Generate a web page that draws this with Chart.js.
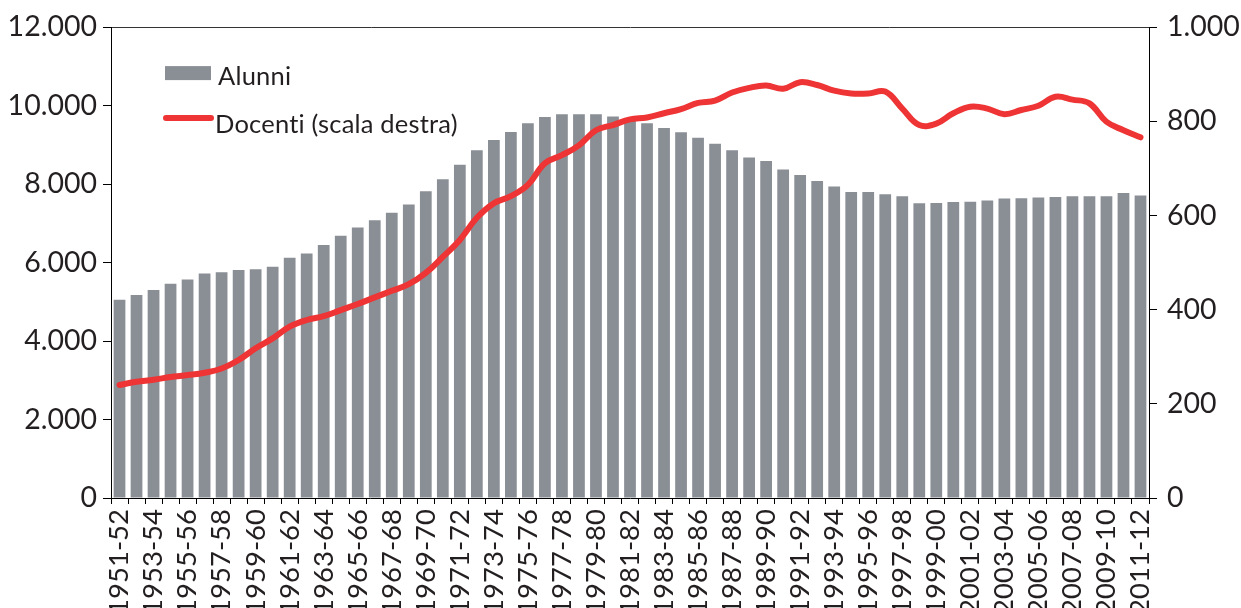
<!DOCTYPE html>
<html><head><meta charset="utf-8">
<script src="https://cdn.jsdelivr.net/npm/chart.js@4"></script>
<style>html,body{margin:0;padding:0;background:#fff}#wrap{width:1241px;height:608px;position:relative;overflow:hidden}</style>
</head><body><div id="wrap"><canvas id="c" width="1241" height="608"></canvas></div>
<script>
const categories = ["1951-52","1952-53","1953-54","1954-55","1955-56","1956-57","1957-58","1958-59","1959-60","1960-61",
"1961-62","1962-63","1963-64","1964-65","1965-66","1966-67","1967-68","1968-69","1969-70","1970-71",
"1971-72","1972-73","1973-74","1974-75","1975-76","1976-77","1977-78","1978-79","1979-80","1980-81",
"1981-82","1982-83","1983-84","1984-85","1985-86","1986-87","1987-88","1988-89","1989-90","1990-91",
"1991-92","1992-93","1993-94","1994-95","1995-96","1996-97","1997-98","1998-99","1999-00","2000-01",
"2001-02","2002-03","2003-04","2004-05","2005-06","2006-07","2007-08","2008-09","2009-10","2010-11","2011-12"];
const alunni = [5050,5170,5300,5460,5570,5720,5750,5810,5830,5890,
6120,6230,6450,6680,6890,7080,7270,7480,7820,8120,
8490,8860,9120,9330,9550,9710,9780,9780,9780,9720,
9650,9550,9430,9320,9180,9030,8860,8680,8590,8370,
8230,8080,7940,7800,7800,7740,7690,7510,7520,7540,
7550,7580,7630,7640,7660,7670,7690,7690,7690,7770,7710];
const docenti = [240,247,251,257,261,266,275,293,318,339,
364,378,386,399,412,426,440,454,478,512,
548,595,626,641,665,711,728,749,781,792,
804,808,817,826,839,844,861,871,876,869,
883,877,865,859,859,863,827,792,795,817,
831,827,815,824,833,852,846,838,799,781,766];
const leftTicks = [0,2000,4000,6000,8000,10000,12000];
const rightTicks = [0,200,400,600,800,1000];
const seriesNames = ["Alunni","Docenti (scala destra)"];

function fmt(v){ return String(v).replace(/\B(?=(\d{3})+(?!\d))/g,'.'); }
const FONT = 'Lato';
const TXT = '#231f20';
const BAR = '#8a8e95';
const RED = '#ee3434';

const legendPlugin = {
  id:'customLegend',
  afterDraw(chart){
    const ctx = chart.ctx, a = chart.chartArea;
    const x0 = a.left, y0 = a.top;
    const barDs = chart.data.datasets.find(d=>d.type==='bar');
    const lineDs = chart.data.datasets.find(d=>d.type==='line');
    ctx.save();
    ctx.fillStyle = barDs.backgroundColor;
    ctx.fillRect(x0+54, y0+39, 46, 14);
    ctx.strokeStyle = lineDs.borderColor; ctx.lineWidth = 6; ctx.lineCap = 'round';
    ctx.beginPath(); ctx.moveTo(x0+55, y0+91); ctx.lineTo(x0+100, y0+91); ctx.stroke();
    ctx.fillStyle = TXT;
    ctx.font = '25.5px ' + FONT;
    if ('letterSpacing' in ctx) ctx.letterSpacing = '0.2px';
    ctx.textBaseline = 'alphabetic'; ctx.textAlign = 'left';
    ctx.fillText(barDs.label, x0+107, y0+58);
    ctx.fillText(lineDs.label, x0+104, y0+106);
    ctx.restore();
  }
};

new Chart(document.getElementById('c'), {
  data: {
    labels: categories,
    datasets: [
      { type:'line', label: seriesNames[1], data: docenti, yAxisID:'y1', borderColor: RED, borderWidth: 6,
        pointRadius: 0, tension: 0.4, borderCapStyle:'round', borderJoinStyle:'round', order: 0 },
      { type:'bar', label: seriesNames[0], data: alunni, yAxisID:'y', backgroundColor: BAR,
        barPercentage: 0.69, categoryPercentage: 1.0, order: 1 }
    ]
  },
  options: {
    responsive:false, animation:false, devicePixelRatio:1,
    layout:{ padding:{ top:27, left:0, right:0, bottom:0 } },
    plugins:{ legend:{ display:false }, tooltip:{ enabled:false } },
    scales:{
      x:{
        type:'category', offset:true,
        grid:{ display:true, drawOnChartArea:false, drawTicks:true, tickLength:6, tickColor:'#000', offset:true },
        border:{ display:true, color:'#000', width:1 },
        ticks:{ autoSkip:false, maxRotation:90, minRotation:90, padding:5, color:TXT,
          font:{ family:FONT, size:27.5 },
          callback:(v,i)=> i%2===0 ? categories[i] : '' },
        afterFit:(s)=>{ s.height = 110; }
      },
      y:{
        position:'left', min:0, max:12000,
        afterBuildTicks:(s)=>{ s.ticks = leftTicks.map(v=>({value:v})); },
        ticks:{ padding:6, color:TXT, font:{ family:FONT, size:28.5 }, callback:(v)=>fmt(v) },
        grid:{ drawOnChartArea:true, tickLength:8, tickColor:'#000',
          color:(c)=> (c.tick && c.tick.value===12000) ? '#333' : 'rgba(0,0,0,0)' },
        border:{ display:true, color:'#000', width:1 },
        afterFit:(s)=>{ s.width = 111; }
      },
      y1:{
        position:'right', min:0, max:1000,
        afterBuildTicks:(s)=>{ s.ticks = rightTicks.map(v=>({value:v})); },
        ticks:{ padding:10, color:TXT, font:{ family:FONT, size:28.5 }, callback:(v)=>fmt(v) },
        grid:{ drawOnChartArea:false, tickLength:8, tickColor:'#000' },
        border:{ display:true, color:'#000', width:1 },
        afterFit:(s)=>{ s.width = 92; }
      }
    }
  },
  plugins:[legendPlugin]
});
</script></body></html>
